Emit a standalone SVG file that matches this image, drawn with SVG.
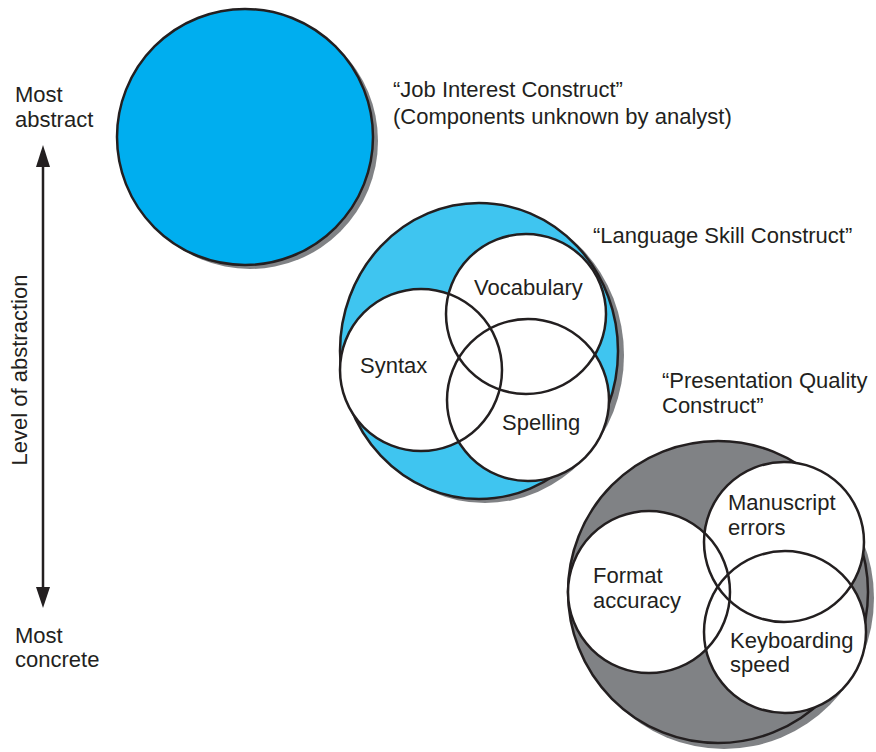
<svg xmlns="http://www.w3.org/2000/svg" width="876" height="752" viewBox="0 0 876 752">
<style>
text{font-family:"Liberation Sans",Arial,sans-serif;font-size:22px;fill:#231f20}
.side{font-size:22px}
.sh{fill:#808285;stroke:none}
.ln{fill:none;stroke:#231f20;stroke-width:2.5}
.wf{fill:#fff;stroke:none}
</style>
<rect width="876" height="752" fill="#fff"/>

<g id="axis">
<text class="side" x="15" y="102">Most</text>
<text class="side" x="15" y="127">abstract</text>
<text class="side" x="15" y="643">Most</text>
<text class="side" x="15" y="667">concrete</text>
<text class="side" transform="translate(27,370) rotate(-90)" text-anchor="middle">Level of abstraction</text>
</g>
<g id="connectors">
<line x1="43" y1="166" x2="43" y2="588" stroke="#231f20" stroke-width="2.5"/>
<path d="M43,145 L50,167 L36,167 Z" fill="#231f20"/>
<path d="M43,608 L50,587 L36,587 Z" fill="#231f20"/>
</g>

<g id="job-interest">
<circle class="sh" cx="250" cy="141" r="128"/>
<circle cx="245" cy="137" r="128" fill="#00aeef" stroke="#231f20" stroke-width="2.5"/>
<text x="393" y="97">“Job Interest Construct”</text>
<text x="393" y="124">(Components unknown by analyst)</text>
</g>

<g id="language-skill">
<ellipse class="sh" cx="485" cy="355" rx="139" ry="148"/>
<ellipse cx="479" cy="351" rx="139" ry="148" fill="#3fc5f0" stroke="#231f20" stroke-width="2.5"/>
<circle class="wf" cx="526" cy="314" r="80"/>
<circle class="wf" cx="421" cy="370" r="81"/>
<circle class="wf" cx="528" cy="400" r="81"/>
<circle class="ln" cx="526" cy="314" r="80"/>
<circle class="ln" cx="421" cy="370" r="81"/>
<circle class="ln" cx="528" cy="400" r="81"/>
<text x="474" y="295">Vocabulary</text>
<text x="360" y="373">Syntax</text>
<text x="502" y="430">Spelling</text>
<text x="593" y="243">“Language Skill Construct”</text>
</g>

<g id="presentation-quality">
<ellipse class="sh" cx="724" cy="598" rx="150" ry="151"/>
<ellipse cx="718" cy="592" rx="150" ry="151" fill="#808285" stroke="#231f20" stroke-width="2.5"/>
<circle class="wf" cx="784" cy="542" r="80"/>
<circle class="wf" cx="649" cy="592" r="81"/>
<circle class="wf" cx="785" cy="632" r="81"/>
<circle class="ln" cx="784" cy="542" r="80"/>
<circle class="ln" cx="649" cy="592" r="81"/>
<circle class="ln" cx="785" cy="632" r="81"/>
<text x="728" y="510">Manuscript</text>
<text x="728" y="535">errors</text>
<text x="593" y="583">Format</text>
<text x="593" y="608">accuracy</text>
<text x="730" y="648">Keyboarding</text>
<text x="730" y="672">speed</text>
<text x="662" y="388">“Presentation Quality</text>
<text x="662" y="413">Construct”</text>
</g>
</svg>
